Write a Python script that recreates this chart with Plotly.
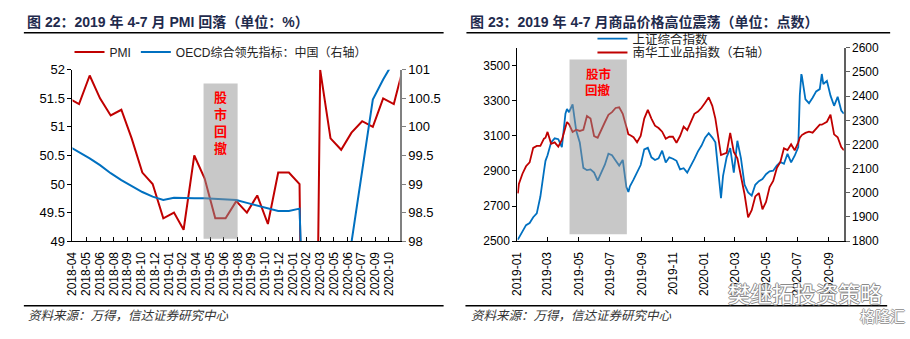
import pandas as pd
import plotly.graph_objects as go

# ---------------- Left chart: PMI vs OECD CLI (monthly, month-end) ----------------
pmi_values = [51.5, 51.4, 51.9, 51.5, 51.2, 51.3, 50.8, 50.2, 50.0, 49.4,
              49.5, 49.2, 50.5, 50.1, 49.4, 49.4, 49.7, 49.5, 49.8, 49.3, 50.2, 50.2,
              50.0, 35.7, 52.0, 50.8, 50.6, 50.9, 51.1, 51.0, 51.5, 51.4, 52.1]   # 2018-03 .. 2020-11
oecd_values = [99.66, 99.56, 99.45, 99.33, 99.19, 99.07, 98.96, 98.86, 98.78, 98.72,
               98.76, 98.75, 98.75, 98.75, 98.74, 98.73, 98.72, 98.67, 98.62, 98.57, 98.53, 98.53,
               98.57, 93.5, 93.0, 95.0, 96.8, 97.98, 99.25, 100.48, 100.83, 101.15]  # 2018-03 .. 2020-10
pmi_dates = pd.date_range("2018-03-01", periods=len(pmi_values), freq="MS") + pd.offsets.MonthEnd(0)
oecd_dates = pd.date_range("2018-03-01", periods=len(oecd_values), freq="MS") + pd.offsets.MonthEnd(0)

left_tick_labels = ["2018-04", "2018-05", "2018-06", "2018-08", "2018-09", "2018-10", "2018-12",
                    "2019-01", "2019-02", "2019-04", "2019-05", "2019-06", "2019-08", "2019-09",
                    "2019-10", "2019-12", "2020-01", "2020-02", "2020-03", "2020-05", "2020-06",
                    "2020-07", "2020-09", "2020-10"]
left_tick_dates = pd.date_range("2018-04-11", periods=len(left_tick_labels), freq="40D")
left_shade = ("2019-04-27", "2019-08-04")

# ---------------- Right chart: SSE Composite vs Nanhua industrial index ----------------
right_dates = [
    "2019-01-02", "2019-01-04", "2019-01-11", "2019-01-18", "2019-01-25", "2019-02-01", "2019-02-08",
    "2019-02-15", "2019-02-22", "2019-02-25", "2019-03-01", "2019-03-08", "2019-03-15", "2019-03-22",
    "2019-03-29", "2019-04-05", "2019-04-08", "2019-04-12", "2019-04-19", "2019-04-26", "2019-05-03",
    "2019-05-10", "2019-05-17", "2019-05-24", "2019-05-31", "2019-06-07", "2019-06-14", "2019-06-21",
    "2019-06-28", "2019-07-05", "2019-07-12", "2019-07-19", "2019-07-26", "2019-08-02", "2019-08-06",
    "2019-08-09", "2019-08-16", "2019-08-23", "2019-08-30", "2019-09-06", "2019-09-13", "2019-09-20",
    "2019-09-27", "2019-10-04", "2019-10-11", "2019-10-18", "2019-10-25", "2019-11-01", "2019-11-08",
    "2019-11-15", "2019-11-22", "2019-11-29", "2019-12-06", "2019-12-13", "2019-12-20", "2019-12-27",
    "2020-01-03", "2020-01-10", "2020-01-17", "2020-01-23", "2020-02-03", "2020-02-07", "2020-02-14",
    "2020-02-21", "2020-02-28", "2020-03-06", "2020-03-13", "2020-03-20", "2020-03-27", "2020-04-03",
    "2020-04-10", "2020-04-17", "2020-04-24", "2020-05-01", "2020-05-08", "2020-05-15", "2020-05-22",
    "2020-05-29", "2020-06-05", "2020-06-12", "2020-06-19", "2020-06-26", "2020-07-03", "2020-07-06",
    "2020-07-09", "2020-07-10", "2020-07-17", "2020-07-24", "2020-07-31", "2020-08-07", "2020-08-14",
    "2020-08-18", "2020-08-21", "2020-08-28", "2020-09-04", "2020-09-11", "2020-09-18", "2020-09-25",
    "2020-09-30"]
sse_values = [
    2509, 2520, 2554, 2591, 2603, 2636, 2658,
    2754, 2899, 2957, 2989, 3062, 3085, 3080,
    3035, 3225, 3252, 3234, 3278, 3129, 3062,
    2917, 2904, 2908, 2890, 2844, 2890, 2935,
    2998, 2989, 2959, 2930, 2962, 2808, 2780,
    2812, 2850, 2890, 2933, 3022, 3031, 2977,
    2962, 2971, 3015, 2948, 2977, 2969, 2957,
    2908, 2915, 2890, 2926, 2968, 3011, 3044,
    3089, 3114, 3089, 3062, 2745, 2872, 2977,
    3029, 2890, 3071, 2971, 2821, 2777, 2759,
    2821, 2841, 2853, 2881, 2897, 2901, 2930,
    2950, 2940, 2997, 2948, 2986, 3035, 3330,
    3450, 3440, 3307, 3285, 3316, 3352, 3365,
    3451, 3394, 3412, 3328, 3270, 3321, 3243,
    3225]
nanhua_values = [
    1998, 2037, 2079, 2110, 2126, 2186, 2194,
    2194, 2224, 2228, 2252, 2203, 2209, 2191,
    2219, 2271, 2293, 2284, 2252, 2261, 2256,
    2261, 2318, 2307, 2235, 2228, 2257, 2292,
    2323, 2334, 2351, 2354, 2327, 2268, 2242,
    2239, 2230, 2209, 2235, 2307, 2343, 2307,
    2278, 2268, 2253, 2224, 2232, 2232, 2207,
    2235, 2274, 2259, 2297, 2327, 2336, 2352,
    2373, 2395, 2360, 2307, 2156, 2160, 2165,
    2248, 2169, 2143, 2064, 1994, 1898, 1928,
    1985, 1999, 1932, 1962, 2024, 2049, 2102,
    2128, 2184, 2177, 2201, 2176, 2209, 2228,
    2236, 2239, 2248, 2253, 2249, 2268, 2282,
    2282, 2285, 2294, 2323, 2242, 2230, 2189,
    2176]
right_shade = ("2019-04-13", "2019-08-03")

# ---------------- styling ----------------
W, H = 910, 339
RED, BLUE = "#C00000", "#0070C0"
FONT = "Liberation Sans, Arial, Noto Sans CJK SC, sans-serif"
CJK = "Noto Sans CJK SC, Liberation Sans, sans-serif"
TITLE_COLOR = "#1F2B4D"


def fx(p):
    return p / W


def fy(p):
    return 1 - p / H


fig = go.Figure()
fig.add_trace(go.Scatter(x=oecd_dates, y=oecd_values, name="OECD综合领先指标：中国（右轴）",
                         mode="lines", line=dict(color=BLUE, width=2), xaxis="x", yaxis="y2",
                         legend="legend", legendrank=2))
fig.add_trace(go.Scatter(x=pmi_dates, y=pmi_values, name="PMI", mode="lines",
                         line=dict(color=RED, width=2), xaxis="x", yaxis="y",
                         legend="legend", legendrank=1))
fig.add_trace(go.Scatter(x=right_dates, y=sse_values, name="上证综合指数", mode="lines",
                         line=dict(color=BLUE, width=1.8), xaxis="x2", yaxis="y3", legend="legend2"))
fig.add_trace(go.Scatter(x=right_dates, y=nanhua_values, name="南华工业品指数（右轴）", mode="lines",
                         line=dict(color=RED, width=1.8), xaxis="x2", yaxis="y4", legend="legend3"))

axis_common = dict(showgrid=False, zeroline=False, showline=True, linecolor="black", linewidth=1,
                   tickcolor="black", ticklen=4, tickfont=dict(family=FONT, size=12, color="black"))

ly0, ly1 = fy(245), fy(65.7)
ry0, ry1 = fy(245), fy(42.7)

fig.update_layout(
    width=W, height=H, margin=dict(l=0, r=0, t=0, b=0),
    paper_bgcolor="white", plot_bgcolor="rgba(0,0,0,0)",
    font=dict(family=FONT, color="black"),
    xaxis=dict(axis_common, domain=[fx(66), fx(395.7)], anchor="y", type="date",
               range=["2018-04-11", "2020-11-17"], tickmode="array",
               tickvals=list(left_tick_dates), ticktext=left_tick_labels,
               ticks="inside", tickangle=-90, ticklabelstandoff=5),
    yaxis=dict(axis_common, domain=[ly0, ly1], anchor="x", range=[49, 52], dtick=0.5, tick0=49,
               ticks="outside", tickfont=dict(family=FONT, size=13, color="black")),
    yaxis2=dict(axis_common, overlaying="y", side="right", anchor="x", range=[98, 101], dtick=0.5,
                tick0=98, ticks="outside", linecolor="#808080", linewidth=2, tickcolor="#808080",
                tickfont=dict(family=FONT, size=13, color="black")),
    xaxis2=dict(axis_common, domain=[fx(514.3), fx(843.3)], anchor="y3", type="date",
                range=["2019-01-01", "2020-09-30"], tick0="2019-01-01", dtick="M2",
                tickformat="%Y-%m", ticks="inside", tickangle=-90, ticklabelstandoff=5),
    yaxis3=dict(axis_common, domain=[ry0, ry1], anchor="x2", range=[2500, 3600],
                tickvals=[2500, 2700, 2900, 3100, 3300, 3500], ticks="outside"),
    yaxis4=dict(axis_common, overlaying="y3", side="right", anchor="x2", range=[1800, 2600],
                dtick=100, tick0=1800, ticks="outside", linecolor="#606060", linewidth=1.5,
                tickcolor="#606060"),
    legend=dict(orientation="h", x=fx(63), xanchor="left", y=fy(47), yanchor="middle",
                font=dict(family=FONT, size=12, color="#222"), bgcolor="rgba(0,0,0,0)",
                itemwidth=30, tracegroupgap=0),
    legend2=dict(x=fx(590), xanchor="left", y=fy(33.5), yanchor="middle",
                 font=dict(family=FONT, size=12.5, color="#222"), bgcolor="rgba(0,0,0,0)", itemwidth=30),
    legend3=dict(x=fx(590), xanchor="left", y=fy(48), yanchor="middle",
                 font=dict(family=FONT, size=12.5, color="#222"), bgcolor="rgba(0,0,0,0)", itemwidth=30),
    showlegend=True,
)

shade_fill = "rgba(145,145,145,0.5)"
shapes = [
    dict(type="rect", xref="x", yref="y", x0=left_shade[0], x1=left_shade[1], y0=49.04, y1=51.76,
         fillcolor=shade_fill, line=dict(width=0), layer="above"),
    dict(type="rect", xref="x2", yref="y3", x0=right_shade[0], x1=right_shade[1], y0=2540, y1=3533,
         fillcolor=shade_fill, line=dict(width=0), layer="above"),
    # title underlines
    dict(type="line", xref="paper", yref="paper", x0=fx(17), x1=fx(440), y0=fy(27), y1=fy(27),
         line=dict(color="black", width=1.5)),
    dict(type="line", xref="paper", yref="paper", x0=fx(463), x1=fx(890), y0=fy(27), y1=fy(27),
         line=dict(color="black", width=1.5)),
    # footer lines
    dict(type="line", xref="paper", yref="paper", x0=fx(17), x1=fx(440), y0=fy(312.7), y1=fy(312.7),
         line=dict(color="black", width=1.5)),
    dict(type="line", xref="paper", yref="paper", x0=fx(462), x1=fx(887), y0=fy(312.7), y1=fy(312.7),
         line=dict(color="black", width=1.5)),
]
fig.update_layout(shapes=shapes)

ann = []
ann.append(dict(text="<b>图 22：2019 年 4-7 月 PMI 回落（单位：%）</b>", x=fx(18), y=fy(16),
                xref="paper", yref="paper", xanchor="left", yanchor="middle", showarrow=False,
                font=dict(family=FONT, size=14, color=TITLE_COLOR)))
ann.append(dict(text="<b>图 23：2019 年 4-7 月商品价格高位震荡（单位：点数）</b>", x=fx(465), y=fy(16),
                xref="paper", yref="paper", xanchor="left", yanchor="middle", showarrow=False,
                font=dict(family=FONT, size=14, color=TITLE_COLOR)))
for xs in (19, 466):
    ann.append(dict(text="<i>资料来源：万得，信达证券研究中心</i>", x=fx(xs), y=fy(322),
                    xref="paper", yref="paper", xanchor="left", yanchor="middle", showarrow=False,
                    font=dict(family=CJK, size=12.5, color="#333")))
# "股市回撤" stacked vertically in the left shade, one character per line
for i, ch in enumerate("股市回撤"):
    ann.append(dict(text="<b>" + ch + "</b>", x=fx(215), y=fy(95 + 17.7 * i), xref="paper", yref="paper",
                    xanchor="center", yanchor="middle", showarrow=False,
                    font=dict(family=FONT, size=13, color="#FF0000")))
for i, txt in enumerate(("股市", "回撤")):
    ann.append(dict(text="<b>" + txt + "</b>", x=fx(596), y=fy(70.7 + 16.6 * i), xref="paper", yref="paper",
                    xanchor="center", yanchor="middle", showarrow=False,
                    font=dict(family=FONT, size=12.5, color="#FF0000")))
# watermarks
ann.append(dict(text="樊继拓投资策略", x=fx(804), y=fy(298), xref="paper", yref="paper",
                xanchor="center", yanchor="middle", showarrow=False,
                font=dict(family=CJK, size=22, color="white",
                          shadow="1px 0 #8a8a8a, -1px 0 #8a8a8a, 0 1px #8a8a8a, 0 -1px #8a8a8a")))
ann.append(dict(text="格隆汇", x=fx(882), y=fy(323), xref="paper", yref="paper",
                xanchor="center", yanchor="middle", showarrow=False,
                font=dict(family=CJK, size=15, color="white",
                          shadow="1px 0 #9a9a9a, -1px 0 #9a9a9a, 0 1px #9a9a9a, 0 -1px #9a9a9a")))
fig.update_layout(annotations=ann)

fig.write_html("out.html")
